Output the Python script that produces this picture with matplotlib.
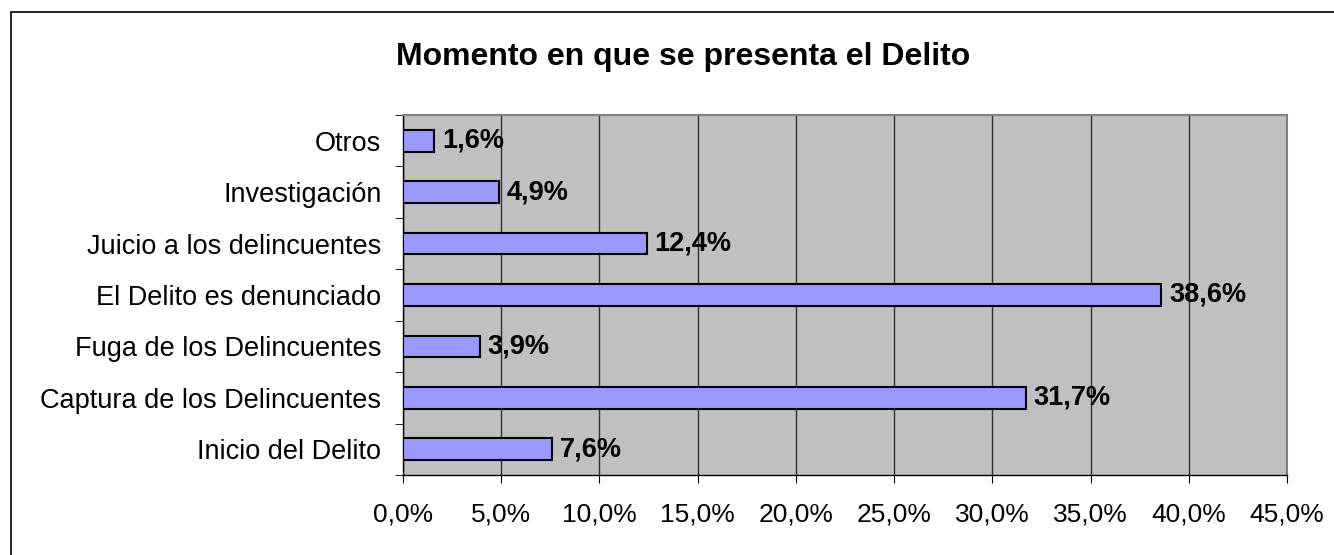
import matplotlib
matplotlib.use("Agg")
import matplotlib.pyplot as plt
from matplotlib.patches import Rectangle
from matplotlib.ticker import FuncFormatter, MultipleLocator, FixedLocator

categories = ["Inicio del Delito", "Captura de los Delincuentes", "Fuga de los Delincuentes",
              "El Delito es denunciado", "Juicio a los delincuentes", "Investigación", "Otros"]
values = [7.6, 31.7, 3.9, 38.6, 12.4, 4.9, 1.6]
title = "Momento en que se presenta el Delito"

plt.rcParams['font.family'] = ['Liberation Sans', 'DejaVu Sans']

W, H = 1334, 555
fig = plt.figure(figsize=(W / 100, H / 100), dpi=100)
fig.patch.set_facecolor('white')

# outer border (right and bottom edges fall outside the image)
fig.patches.append(Rectangle((11 / W, -0.05), 1.0, (H - 12) / H + 0.05,
                             transform=fig.transFigure, fill=False,
                             edgecolor='black', linewidth=1.2, clip_on=False))

left, right, top, bottom = 403, 1287, 115, 475
ax = fig.add_axes([left / W, 1 - bottom / H, (right - left) / W, (bottom - top) / H])
ax.set_facecolor('#C0C0C0')

y = list(range(len(categories)))
ax.barh(y, values, height=0.42, color='#9999FF', edgecolor='black', linewidth=1.5, zorder=3)

for yi, v in zip(y, values):
    ax.text(v + 0.4, yi, f"{v:.1f}%".replace('.', ','), va='center', ha='left',
            fontsize=19.5, fontweight='bold', color='black', zorder=4)

ax.set_xlim(0, 45)
ax.set_ylim(-0.5, len(categories) - 0.5)
ax.xaxis.set_major_locator(MultipleLocator(5))
ax.xaxis.set_major_formatter(FuncFormatter(lambda x, p: f"{x:.1f}%".replace('.', ',')))
ax.grid(axis='x', color='#303030', linewidth=1.0, zorder=1)

ax.set_yticks(y)
ax.set_yticklabels(categories)
ax.yaxis.set_minor_locator(FixedLocator([i - 0.5 for i in range(len(categories) + 1)]))
ax.tick_params(axis='y', which='major', length=0, pad=15.5, labelsize=19.5)
ax.tick_params(axis='y', which='minor', length=6, direction='out', color='black')
ax.tick_params(axis='x', which='major', length=6, direction='out', pad=14, labelsize=19)

for s in ['left', 'bottom']:
    ax.spines[s].set_color('black')
    ax.spines[s].set_linewidth(1.0)
ax.spines['top'].set_color('#808080')
ax.spines['right'].set_color('#808080')
ax.spines['top'].set_linewidth(1.5)
ax.spines['right'].set_linewidth(1.5)

fig.text(683 / W, 1 - 64.5 / H, title, ha='center', va='baseline', fontsize=23, fontweight='bold')

fig.savefig("out.png", dpi=100)
